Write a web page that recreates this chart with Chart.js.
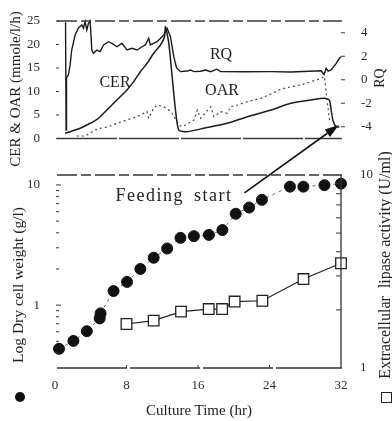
<!DOCTYPE html>
<html>
<head>
<meta charset="utf-8">
<script src="https://cdn.jsdelivr.net/npm/chart.js@4.4.1/dist/chart.umd.min.js"></script>
<style>
  body { margin: 0; background: #fff; }
  #wrap { position: relative; width: 392px; height: 421px; overflow: hidden; font-family: 'Liberation Serif', serif; color: #222; }
  canvas { position: absolute; left: 0; top: 0; }
  .t { position: absolute; white-space: nowrap; transform: translate(-50%, -50%); line-height: 1; }
  .v { transform: translate(-50%, -50%) rotate(-90deg); }
  .dot { position: absolute; width: 10px; height: 10px; border-radius: 50%; background: #111; }
  .box { position: absolute; width: 9px; height: 9px; border: 1.3px solid #222; background: #fff; }
</style>
</head>
<body>
<div id="wrap">
  <canvas id="topPanel" width="392" height="421"></canvas>
  <canvas id="bottomPanel" width="392" height="421"></canvas>

  <div class="t v" style="left:15px; top:89px; font-size:15px;">CER &amp; OAR (mmole/l/h)</div>
  <div class="t v" style="left:380px; top:78px; font-size:14px;">RQ</div>
  <div class="t v" style="left:18px; top:285px; font-size:15.5px;">Log Dry cell weight (g/l)</div>
  <div class="t v" style="left:385px; top:265px; font-size:16px;">Extracellular&nbsp; lipase activity (U/ml)</div>
  <div class="t" style="left:199px; top:410px; font-size:15px;">Culture Time (hr)</div>

  <div class="t" style="left:115px; top:82px; font-size:16px;">CER</div>
  <div class="t" style="left:221px; top:54px; font-size:16px;">RQ</div>
  <div class="t" style="left:222px; top:90px; font-size:16px;">OAR</div>
  <div class="t" style="left:174px; top:195px; font-size:18px; letter-spacing:1.5px; word-spacing:4px;">Feeding start</div>

  <div class="dot" style="left:15px; top:392px;"></div>
  <div class="box" style="left:381px; top:392px;"></div>
</div>

<script>
// top panel: gas analysis
const rqTime = [1.18, 1.24, 1.29, 1.49, 1.69, 1.87, 2.25, 2.62, 3.0, 3.18, 3.37, 3.56, 3.74, 3.93, 4.12, 4.30, 4.68, 5.06, 5.43, 5.99, 6.37, 6.93, 7.49, 8.05, 8.62, 9.18, 9.74, 10.11, 10.48, 10.67, 11.42, 12.17, 12.55, 12.92, 13.29, 13.6, 14.04, 14.8, 15.17, 15.54, 16.29, 16.85, 17.42, 18.09, 18.54, 21.12, 24.16, 26.4, 29.78, 30.1, 30.34, 30.56, 30.9, 31.46, 31.83, 32.0];
const rqValue = [4.9, -4.28, 0.15, 0.4, 1.26, 2.53, 3.81, 4.4, 4.66, 4.38, 4.94, 4.23, 4.8, 5.0, 2.53, 2.25, 2.53, 2.39, 2.96, 3.24, 3.1, 2.81, 3.1, 2.53, 2.68, 2.53, 2.81, 2.96, 3.53, 2.96, 3.24, 3.81, 4.36, 3.66, 1.96, 1.0, 0.69, 0.74, 0.83, 0.69, 0.72, 0.83, 0.69, 0.9, 0.69, 0.68, 0.69, 0.66, 0.77, 0.45, 0.97, 0.74, 0.83, 1.4, 1.83, 1.96];

const cerTime = [1.12, 1.69, 2.81, 3.56, 4.30, 5.06, 5.81, 6.55, 7.30, 8.05, 8.80, 9.55, 10.30, 11.04, 11.80, 12.25, 12.36, 12.73, 13.11, 13.48, 13.85, 14.80, 16.66, 19.29, 21.54, 24.16, 26.4, 28.65, 30.15, 30.7, 30.9, 31.09, 31.46, 31.83];
const cerValue = [1.1, 1.45, 2.17, 2.87, 3.57, 4.64, 6.06, 7.49, 8.89, 10.32, 12.09, 14.21, 16.0, 18.13, 19.89, 21.6, 23.8, 20.3, 13.15, 6.06, 1.8, 1.45, 2.17, 3.23, 4.64, 6.06, 7.49, 8.19, 8.55, 8.19, 6.06, 3.9, 2.5, 2.45];

const oarTime = [2.44, 3.37, 3.93, 4.49, 5.06, 5.99, 6.93, 8.05, 9.18, 10.30, 10.48, 11.04, 11.42, 12.17, 12.73, 13.11, 13.85, 14.23, 14.61, 15.54, 15.92, 16.29, 17.42, 17.79, 18.54, 19.29, 19.66, 20.42, 21.54, 22.28, 23.03, 24.16, 25.28, 26.4, 27.53, 28.65, 29.78, 30.15, 30.45, 30.75];
const oarValue = [0.53, 0.53, 1.17, 1.81, 2.17, 2.51, 3.23, 3.94, 4.64, 5.70, 4.30, 6.43, 7.13, 6.77, 6.06, 5.36, 2.87, 2.51, 2.87, 3.94, 6.06, 4.30, 6.77, 4.64, 5.70, 5.36, 6.77, 7.13, 7.83, 8.19, 8.55, 9.47, 10.5, 11.0, 11.4, 12.1, 12.8, 13.17, 8.0, 3.5];

// bottom panel: growth and lipase
const dcwTime = [0.45, 2.06, 3.56, 5.0, 5.1, 6.55, 8.06, 9.55, 11.04, 12.55, 14.04, 15.54, 17.22, 18.73, 20.22, 21.72, 23.15, 26.29, 27.79, 30.15, 32.0];
const dcwValue = [0.433, 0.504, 0.607, 0.776, 0.854, 1.31, 1.56, 2.0, 2.48, 2.96, 3.63, 3.75, 3.84, 4.22, 5.76, 6.49, 7.52, 9.68, 9.68, 9.96, 10.25];

const lipaseTime = [8.0, 11.04, 14.1, 17.2, 18.7, 20.1, 23.2, 27.8, 32.0];
const lipaseValue = [1.69, 1.76, 1.96, 2.02, 2.02, 2.21, 2.23, 2.89, 3.49];

// axes
const xTicks = [0, 8, 16, 24, 32];
const gasTicks = [0, 5, 10, 15, 20, 25];
const rqTicks = [4, 2, 0, -2, -4];
const dcwTicks = [1, 10];
const dcwMinor = [0.4, 0.5, 0.6, 0.7, 0.8, 0.9, 2, 3, 4, 5, 6, 7, 8, 9];
const lipaseTicks = [1, 10];
const lipaseMinor = [2, 3, 4, 5, 6, 7, 8, 9];

// "Feeding start" arrow: tail in bottom panel, head in top panel (data units)
const arrowFrom = { x: 21.2, y: 8.6 };
const arrowTo = { x: 31.75, y: 2.85 };

const serif = "'Liberation Serif', 'Times New Roman', serif";
const ink = '#1c1c1c';

function pts(xs, ys) {
  return xs.map((x, i) => ({ x: x, y: ys[i] }));
}

function setTicks(list) {
  return function(scale) {
    scale.ticks = list.map(v => ({ value: v }));
  };
}

function hline(ctx, x1, x2, y) {
  ctx.beginPath();
  ctx.moveTo(x1, y);
  ctx.lineTo(x2, y);
  ctx.stroke();
}

const topFrame = {
  id: 'topFrame',
  afterDraw(chart) {
    const ctx = chart.ctx;
    const a = chart.chartArea;
    const yL = chart.scales.yL;
    const yR = chart.scales.yR;
    ctx.save();
    ctx.strokeStyle = '#3a3a3a';
    ctx.lineWidth = 1.3;
    ctx.setLineDash([20, 4, 10, 4]);
    hline(ctx, a.left + 2, a.right + 1, a.top);
    ctx.setLineDash([60, 2]);
    hline(ctx, a.left + 2, a.right + 1, a.bottom);
    ctx.setLineDash([]);
    ctx.lineWidth = 1;
    gasTicks.forEach(v => hline(ctx, a.left + 1, a.left + 4, yL.getPixelForValue(v)));
    rqTicks.forEach(v => hline(ctx, a.right, a.right + 4, yR.getPixelForValue(v)));
    ctx.restore();
  }
};

const bottomFrame = {
  id: 'bottomFrame',
  afterDraw(chart) {
    const ctx = chart.ctx;
    const a = chart.chartArea;
    const x = chart.scales.x;
    const yL = chart.scales.yL;
    const yR = chart.scales.yR;
    ctx.save();
    ctx.strokeStyle = '#333';
    ctx.lineWidth = 1.3;
    ctx.setLineDash([20, 4, 10, 4]);
    hline(ctx, a.left + 2, a.right + 1, a.top);
    ctx.setLineDash([70, 3]);
    hline(ctx, a.left + 2, a.right + 1, a.bottom);
    ctx.setLineDash([]);
    ctx.beginPath();
    ctx.moveTo(a.right, a.top);
    ctx.lineTo(a.right, a.bottom);
    ctx.stroke();

    ctx.lineWidth = 1;
    dcwMinor.forEach(v => hline(ctx, a.left + 1, a.left + 4, yL.getPixelForValue(v)));
    dcwTicks.forEach(v => hline(ctx, a.left + 1, a.left + 6, yL.getPixelForValue(v)));
    lipaseMinor.forEach(v => hline(ctx, a.right - 5, a.right, yR.getPixelForValue(v)));
    xTicks.slice(1, -1).forEach(v => {
      const px = x.getPixelForValue(v);
      ctx.beginPath();
      ctx.moveTo(px, a.bottom);
      ctx.lineTo(px, a.bottom - 3);
      ctx.stroke();
    });

    // arrow pointing at the feeding start
    const x0 = x.getPixelForValue(arrowFrom.x);
    const y0 = yL.getPixelForValue(arrowFrom.y);
    const x1 = topChart.scales.x.getPixelForValue(arrowTo.x);
    const y1 = topChart.scales.yL.getPixelForValue(arrowTo.y);
    const ang = Math.atan2(y1 - y0, x1 - x0);
    const len = 14;
    const half = 4.5;
    const bx = x1 - len * Math.cos(ang);
    const by = y1 - len * Math.sin(ang);
    ctx.strokeStyle = '#111';
    ctx.fillStyle = '#111';
    ctx.lineWidth = 1.6;
    ctx.beginPath();
    ctx.moveTo(x0, y0);
    ctx.lineTo(bx, by);
    ctx.stroke();
    ctx.beginPath();
    ctx.moveTo(x1, y1);
    ctx.lineTo(bx + half * Math.sin(ang), by - half * Math.cos(ang));
    ctx.lineTo(bx - half * Math.sin(ang), by + half * Math.cos(ang));
    ctx.closePath();
    ctx.fill();
    ctx.restore();
  }
};

const tickFont = { family: serif, size: 13 };

const topChart = new Chart(document.getElementById('topPanel'), {
  type: 'line',
  data: {
    datasets: [
      {
        label: 'RQ',
        data: pts(rqTime, rqValue),
        yAxisID: 'yR',
        borderColor: ink,
        borderWidth: 1.4,
        pointRadius: 0,
        tension: 0,
        clip: false
      },
      {
        label: 'CER',
        data: pts(cerTime, cerValue),
        yAxisID: 'yL',
        borderColor: ink,
        borderWidth: 1.5,
        pointRadius: 0,
        tension: 0.2,
        clip: false
      },
      {
        label: 'OAR',
        data: pts(oarTime, oarValue),
        yAxisID: 'yL',
        borderColor: '#444',
        borderWidth: 1.2,
        borderDash: [2, 3],
        pointRadius: 0,
        tension: 0,
        clip: false
      }
    ]
  },
  options: {
    responsive: false,
    animation: false,
    events: [],
    layout: { padding: { top: 21, bottom: 282.5, left: 0, right: 0 } },
    plugins: { legend: { display: false }, tooltip: { enabled: false } },
    scales: {
      x: { type: 'linear', min: 0, max: 32, display: false },
      yL: {
        position: 'left',
        min: 0,
        max: 25,
        afterFit(s) { s.width = 55; },
        afterBuildTicks: setTicks(gasTicks),
        grid: { display: false },
        border: { display: false },
        ticks: { font: tickFont, color: '#2a2a2a', padding: 7 }
      },
      yR: {
        position: 'right',
        min: -5,
        max: 5,
        afterFit(s) { s.width = 51; },
        afterBuildTicks: setTicks(rqTicks),
        grid: { display: false },
        border: { display: false },
        ticks: { font: tickFont, color: '#2a2a2a', padding: 12 }
      }
    }
  },
  plugins: [topFrame]
});

const bottomChart = new Chart(document.getElementById('bottomPanel'), {
  type: 'line',
  data: {
    datasets: [
      {
        label: 'Dry cell weight',
        data: pts(dcwTime, dcwValue),
        yAxisID: 'yL',
        borderColor: '#666',
        borderWidth: 1,
        borderDash: [3, 4],
        pointRadius: 5.5,
        pointBackgroundColor: '#111',
        pointBorderColor: '#111',
        pointBorderWidth: 1,
        clip: false
      },
      {
        label: 'Extracellular lipase activity',
        data: pts(lipaseTime, lipaseValue),
        yAxisID: 'yR',
        borderColor: '#222',
        borderWidth: 1.2,
        pointStyle: 'rect',
        pointRadius: 7.5,
        pointBackgroundColor: '#fff',
        pointBorderColor: '#222',
        pointBorderWidth: 1.3,
        clip: false
      }
    ]
  },
  options: {
    responsive: false,
    animation: false,
    events: [],
    layout: { padding: { top: 175, bottom: 23, left: 0, right: 0 } },
    plugins: { legend: { display: false }, tooltip: { enabled: false } },
    scales: {
      x: {
        type: 'linear',
        min: 0,
        max: 32,
        afterFit(s) { s.height = 30; },
        afterBuildTicks: setTicks(xTicks),
        grid: { display: false, drawTicks: false },
        border: { display: false },
        ticks: { font: tickFont, color: '#2a2a2a', padding: 10, maxRotation: 0 }
      },
      yL: {
        type: 'logarithmic',
        position: 'left',
        min: 0.307,
        max: 12.1,
        afterFit(s) { s.width = 55; },
        afterBuildTicks: setTicks(dcwTicks),
        grid: { display: false },
        border: { display: false },
        ticks: { font: tickFont, color: '#2a2a2a', padding: 7, callback: v => String(v) }
      },
      yR: {
        type: 'logarithmic',
        position: 'right',
        min: 1,
        max: 10,
        afterFit(s) { s.width = 51; },
        afterBuildTicks: setTicks(lipaseTicks),
        grid: { display: false },
        border: { display: false },
        ticks: { font: tickFont, color: '#2a2a2a', padding: 11, callback: v => String(v) }
      }
    }
  },
  plugins: [bottomFrame]
});
</script>
</body>
</html>
